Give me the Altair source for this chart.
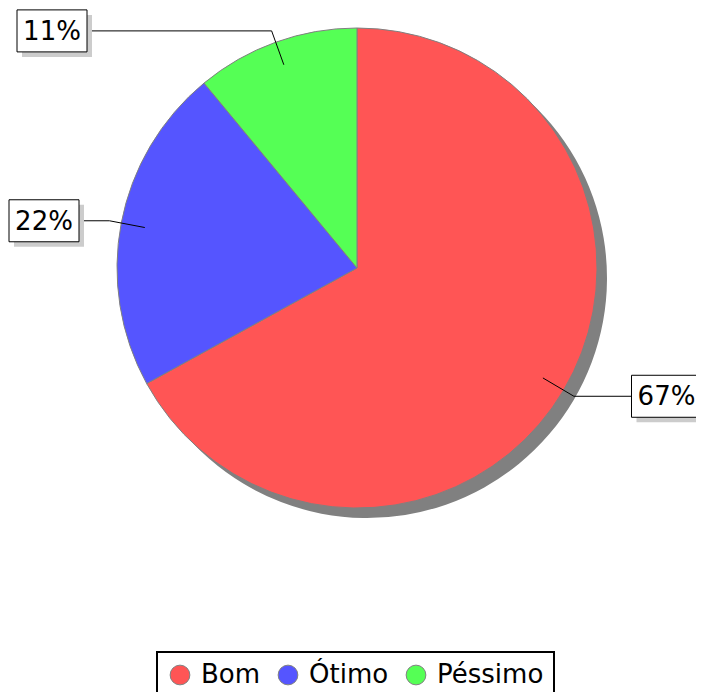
import math
import altair as alt
import pandas as pd

# ---- data ----
categories = ["Bom", "Ótimo", "Péssimo"]
values = [67, 22, 11]
labels = ["67%", "22%", "11%"]
colors = ["#ff5555", "#5555ff", "#55ff55"]

# ---- layout (pixel space of plot area) ----
CX, CY, R = 349, 260, 240
SHADOW = 10
box_cx = [658.5, 36, 44]   # label box centres (x)
BOX_W, BOX_H = 70, 42

pie_df = pd.DataFrame({"category": categories, "value": values, "idx": range(len(values))})

total = sum(values)
cum = 0.0
lead_rows, box_rows = [], []
for i, (cat, v, lab) in enumerate(zip(categories, values, labels)):
    mid = (cum + v / 2) / total * 2 * math.pi
    cum += v
    s, c = math.sin(mid), math.cos(mid)
    ix, iy = CX + 0.9 * R * s, CY - 0.9 * R * c
    ex, ey = CX + 1.05 * R * s, CY - 1.05 * R * c
    bx = box_cx[i]
    edge = bx - BOX_W / 2 if s > 0 else bx + BOX_W / 2
    for k, (px, py) in enumerate([(ix, iy), (ex, ey), (edge, ey)]):
        lead_rows.append({"cat": cat, "k": k, "px": px, "py": py})
    box_rows.append({"cat": cat, "label": lab, "cx": bx, "cy": ey + 1,
                     "x1": bx - BOX_W / 2, "x2": bx + BOX_W / 2,
                     "y1": ey - BOX_H / 2, "y2": ey + BOX_H / 2,
                     "sx1": bx - BOX_W / 2 + 5, "sx2": bx + BOX_W / 2 + 5,
                     "sy1": ey - BOX_H / 2 + 5, "sy2": ey + BOX_H / 2 + 5})
lead_df = pd.DataFrame(lead_rows)
box_df = pd.DataFrame(box_rows)

shadow = alt.Chart(pie_df).mark_arc(outerRadius=R, color="#808080").encode(
    theta=alt.Theta("value:Q"),
    x=alt.value(CX + SHADOW), y=alt.value(CY + SHADOW),
)

pie = alt.Chart(pie_df).mark_arc(outerRadius=R, stroke="#808080", strokeWidth=1).encode(
    theta=alt.Theta("value:Q", stack=True),
    color=alt.Color("category:N", scale=alt.Scale(domain=categories, range=colors),
                    legend=alt.Legend(orient="none", legendX=149, legendY=644,
                                      direction="horizontal", title=None,
                                      strokeColor="black", padding=10,
                                      symbolType="circle", symbolSize=390,
                                      symbolStrokeColor="#808080", symbolStrokeWidth=1,
                                      symbolOpacity=1,
                                      labelFontSize=26, labelFont="DejaVu Sans",
                                      labelColor="black", columnPadding=14,
                                      labelOffset=8)),
    order=alt.Order("idx:Q"),
    x=alt.value(CX), y=alt.value(CY),
)

leaders = alt.Chart(lead_df).mark_line(color="black", strokeWidth=1).encode(
    x=alt.X("px:Q", scale=None, axis=None),
    y=alt.Y("py:Q", scale=None, axis=None),
    detail="cat:N",
    order="k:Q",
)

box_shadow = alt.Chart(box_df).mark_rect(color="#cccccc").encode(
    x=alt.X("sx1:Q", scale=None, axis=None), x2="sx2:Q",
    y=alt.Y("sy1:Q", scale=None, axis=None), y2="sy2:Q",
)

boxes = alt.Chart(box_df).mark_rect(fill="white", stroke="black", strokeWidth=1).encode(
    x=alt.X("x1:Q", scale=None, axis=None), x2="x2:Q",
    y=alt.Y("y1:Q", scale=None, axis=None), y2="y2:Q",
)

texts = alt.Chart(box_df).mark_text(fontSize=26, font="DejaVu Sans", color="black",
                                    align="center", baseline="middle").encode(
    x=alt.X("cx:Q", scale=None, axis=None),
    y=alt.Y("cy:Q", scale=None, axis=None),
    text="label:N",
)

chart = alt.layer(shadow, pie, leaders, box_shadow, boxes, texts).properties(
    width=688, height=684, padding=0, autosize="none"
).configure_view(stroke=None).configure_legend(strokeWidth=2)

chart.save("out.html", embed_options={"renderer": "svg", "actions": False})
